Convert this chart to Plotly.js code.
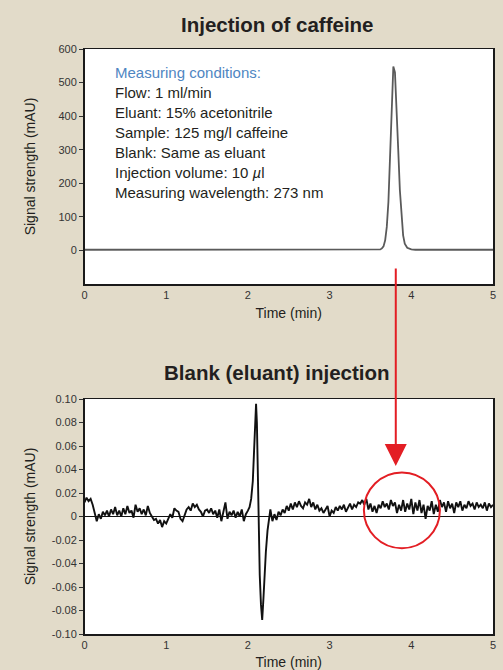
<!DOCTYPE html>
<html>
<head>
<meta charset="utf-8">
<script src="https://cdn.plot.ly/plotly-3.0.1.min.js"></script>
<style>
  html, body { margin: 0; padding: 0; background: #e2dbc9; }
  #chart { width: 503px; height: 670px; }
</style>
</head>
<body>
<div id="chart"></div>
<script>
// ---- Data ----
const caffeineTime = [0, 1, 2, 3, 3.50, 3.60, 3.62, 3.64, 3.66, 3.68, 3.70, 3.72, 3.74, 3.76, 3.78, 3.80, 3.82, 3.84, 3.86, 3.88, 3.90, 3.92, 3.95, 4.00, 4.05, 4.5, 5];
const caffeineSignal = [2, 2, 2, 2, 2, 2, 3, 6, 12, 30, 70, 145, 270, 420, 548, 530, 430, 300, 180, 95, 45, 20, 8, 3, 2, 2, 2];

const blankTime = [
  0.000,0.025,0.050,0.075,0.100,0.125,0.150,0.175,0.200,0.225,0.250,0.275,0.300,0.325,0.350,0.375,0.400,0.425,0.450,0.475,
  0.500,0.525,0.550,0.575,0.600,0.625,0.650,0.675,0.700,0.725,0.750,0.775,0.800,0.825,0.850,0.875,0.900,0.925,0.950,0.975,
  1.000,1.025,1.050,1.075,1.100,1.125,1.150,1.175,1.200,1.225,1.250,1.275,1.300,1.325,1.350,1.375,1.400,1.425,1.450,1.475,
  1.500,1.525,1.550,1.575,1.600,1.625,1.650,1.675,1.700,1.725,1.750,1.775,1.800,1.825,1.850,1.875,1.900,1.925,1.950,1.975,
  2.000,2.020,2.040,2.060,2.075,2.090,2.100,2.110,2.120,2.130,2.145,2.160,2.175,2.190,2.205,2.220,2.240,2.260,2.275,
  2.300,2.325,2.350,2.375,2.400,2.425,2.450,2.475,2.500,2.525,2.550,2.575,2.600,2.625,2.650,2.675,2.700,2.725,2.750,2.775,
  2.800,2.825,2.850,2.875,2.900,2.925,2.950,2.975,3.000,3.025,3.050,3.075,3.100,3.125,3.150,3.175,3.200,3.225,3.250,3.275,
  3.300,3.325,3.350,3.375,3.400,3.425,3.450,3.475,3.500,3.525,3.550,3.575,3.600,3.625,3.650,3.675,3.700,3.725,3.750,3.775,
  3.800,3.825,3.850,3.875,3.900,3.925,3.950,3.975,4.000,4.025,4.050,4.075,4.100,4.125,4.150,4.175,4.200,4.225,4.250,4.275,
  4.300,4.325,4.350,4.375,4.400,4.425,4.450,4.475,4.500,4.525,4.550,4.575,4.600,4.625,4.650,4.675,4.700,4.725,4.750,4.775,
  4.800,4.825,4.850,4.875,4.900,4.925,4.950,4.975,5.000
];
const blankSignal = [
  0.012,0.016,0.013,0.015,0.010,0.004,-0.004,0.002,-0.002,0.004,0.001,0.005,0.000,0.006,0.002,0.008,0.001,0.005,0.000,0.007,
  0.002,0.009,0.003,0.005,-0.001,0.010,0.004,0.007,0.002,0.006,0.001,0.009,0.003,0.000,-0.003,-0.002,-0.006,-0.003,-0.009,-0.004,
  -0.006,-0.002,0.002,-0.001,0.007,0.005,0.004,-0.002,-0.004,0.001,0.006,0.008,0.005,0.011,0.008,0.010,0.006,0.004,0.000,0.005,
  0.006,0.003,0.007,0.002,0.005,-0.001,0.006,-0.004,0.003,0.012,-0.002,0.004,0.001,0.005,-0.001,0.004,0.000,0.006,-0.004,0.002,
  0.005,0.008,0.015,0.030,0.055,0.085,0.096,0.080,0.035,-0.010,-0.050,-0.075,-0.088,-0.070,-0.045,-0.030,-0.012,-0.002,0.006,
  -0.004,0.002,-0.003,0.004,0.001,0.006,0.003,0.009,0.005,0.011,0.006,0.012,0.008,0.013,0.009,0.007,0.012,0.010,0.015,0.008,
  0.012,0.006,0.010,0.005,0.007,0.003,0.006,0.009,0.000,0.005,0.003,0.008,0.005,0.009,0.006,0.010,0.004,0.008,0.011,0.006,
  0.010,0.008,0.012,0.011,0.014,0.010,0.015,0.006,0.011,0.004,0.009,0.003,0.010,0.007,0.013,0.008,0.011,0.006,0.014,0.009,
  0.012,0.003,0.010,0.005,0.014,0.004,0.011,0.006,0.015,0.002,0.012,0.005,0.014,0.003,0.010,-0.002,0.009,0.005,0.013,0.002,
  0.010,0.004,0.014,0.008,0.012,0.004,0.013,0.007,0.011,0.003,0.012,0.008,0.013,0.005,0.010,0.007,0.013,0.009,0.011,0.006,
  0.012,0.008,0.010,0.007,0.012,0.005,0.011,0.008,0.010
];

const xTickVals = [0, 1, 2, 3, 4, 5];
const topYTickVals = [0, 100, 200, 300, 400, 500, 600];
const bottomYTickVals = [-0.10, -0.08, -0.06, -0.04, -0.02, 0, 0.02, 0.04, 0.06, 0.08, 0.10];
const bottomYTickText = ['-0.10', '-0.08', '-0.06', '-0.04', '-0.02', '0', '0.02', '0.04', '0.06', '0.08', '0.10'];

const topTitle = 'Injection of caffeine';
const bottomTitle = 'Blank (eluant) injection';
const xTitle = 'Time (min)';
const yTitle = 'Signal strength (mAU)';
const conditionsHeader = 'Measuring conditions:';
const conditionLines = [
  'Flow: 1 ml/min',
  'Eluant: 15% acetonitrile',
  'Sample: 125 mg/l caffeine',
  'Blank: Same as eluant',
  'Injection volume: 10 <i>\u00b5</i>l',
  'Measuring wavelength: 273 nm'
];

// ---- Layout helpers ----
const W = 503, H = 670;
const px = v => v / W;
const py = v => 1 - v / H;
const FONT = 'Liberation Sans, Arial, Helvetica, sans-serif';
const TEXT = '#231f20';

const axisCommon = {
  showline: true, mirror: true, linecolor: '#1a1a1a', linewidth: 1.5,
  showgrid: false, zeroline: false,
  tickfont: { family: FONT, size: 11, color: '#333' }
};

const traces = [
  { x: caffeineTime, y: caffeineSignal, xaxis: 'x', yaxis: 'y', type: 'scatter', mode: 'lines',
    line: { color: '#5a5a5a', width: 1.8 }, hoverinfo: 'skip' },
  { x: blankTime, y: blankSignal, xaxis: 'x2', yaxis: 'y2', type: 'scatter', mode: 'lines',
    line: { color: '#111', width: 1.9 }, hoverinfo: 'skip' }
];

const annotations = [
  { text: '<b>' + topTitle + '</b>', xref: 'paper', yref: 'paper', x: px(277), y: py(24),
    xanchor: 'center', yanchor: 'middle', showarrow: false,
    font: { family: FONT, size: 20.5, color: TEXT } },
  { text: '<b>' + bottomTitle + '</b>', xref: 'paper', yref: 'paper', x: px(277), y: py(372),
    xanchor: 'center', yanchor: 'middle', showarrow: false,
    font: { family: FONT, size: 20.5, color: TEXT } },
  { text: conditionsHeader, xref: 'paper', yref: 'paper', x: px(113), y: py(73),
    xanchor: 'left', yanchor: 'middle', showarrow: false,
    font: { family: FONT, size: 15, color: '#4f86c2' } }
];
conditionLines.forEach((t, i) => {
  annotations.push({ text: t, xref: 'paper', yref: 'paper', x: px(113), y: py(93 + i * 19.8),
    xanchor: 'left', yanchor: 'middle', showarrow: false,
    font: { family: FONT, size: 15, color: TEXT } });
});
// red arrow pointing from caffeine peak to blank region
annotations.push({ text: '', xref: 'x2', yref: 'y2', x: 3.81, y: 0.043,
  ax: 0, ay: -199, axref: 'pixel', ayref: 'pixel', showarrow: true,
  arrowhead: 2, arrowsize: 2.2, arrowwidth: 2, arrowcolor: '#e31e24' });

const layout = {
  width: W, height: H,
  margin: { l: 0, r: 0, t: 0, b: 0 },
  paper_bgcolor: '#e2dbc9',
  plot_bgcolor: '#ffffff',
  showlegend: false,
  font: { family: FONT, color: TEXT },
  xaxis: Object.assign({}, axisCommon, {
    domain: [px(84.5), px(493)], anchor: 'y', range: [0, 5],
    tickvals: xTickVals, ticks: '',
    title: { text: xTitle, font: { family: FONT, size: 14, color: TEXT }, standoff: 8 }
  }),
  yaxis: Object.assign({}, axisCommon, {
    domain: [py(284), py(49)], anchor: 'x', range: [-100, 600],
    tickvals: topYTickVals, ticks: 'outside', ticklen: 4, tickcolor: '#333',
    title: { text: yTitle, font: { family: FONT, size: 14, color: TEXT }, standoff: 19 }
  }),
  xaxis2: Object.assign({}, axisCommon, {
    domain: [px(84.5), px(493)], anchor: 'y2', range: [0, 5],
    tickvals: xTickVals, ticks: '',
    title: { text: xTitle, font: { family: FONT, size: 14, color: TEXT }, standoff: 7 }
  }),
  yaxis2: Object.assign({}, axisCommon, {
    domain: [py(634), py(399)], anchor: 'x2', range: [-0.10, 0.10],
    tickvals: bottomYTickVals, ticktext: bottomYTickText, ticks: 'outside', ticklen: 4, tickcolor: '#333',
    zeroline: true, zerolinecolor: '#111', zerolinewidth: 1,
    title: { text: yTitle, font: { family: FONT, size: 14, color: TEXT }, standoff: 13 }
  }),
  annotations: annotations,
  shapes: [
    { type: 'circle', xref: 'x2', yref: 'y2', x0: 3.42, x1: 4.35, y0: -0.027, y1: 0.0375,
      line: { color: '#e31e24', width: 2 } }
  ]
};

Plotly.newPlot('chart', traces, layout, { displayModeBar: false, staticPlot: true });
</script>
</body>
</html>
